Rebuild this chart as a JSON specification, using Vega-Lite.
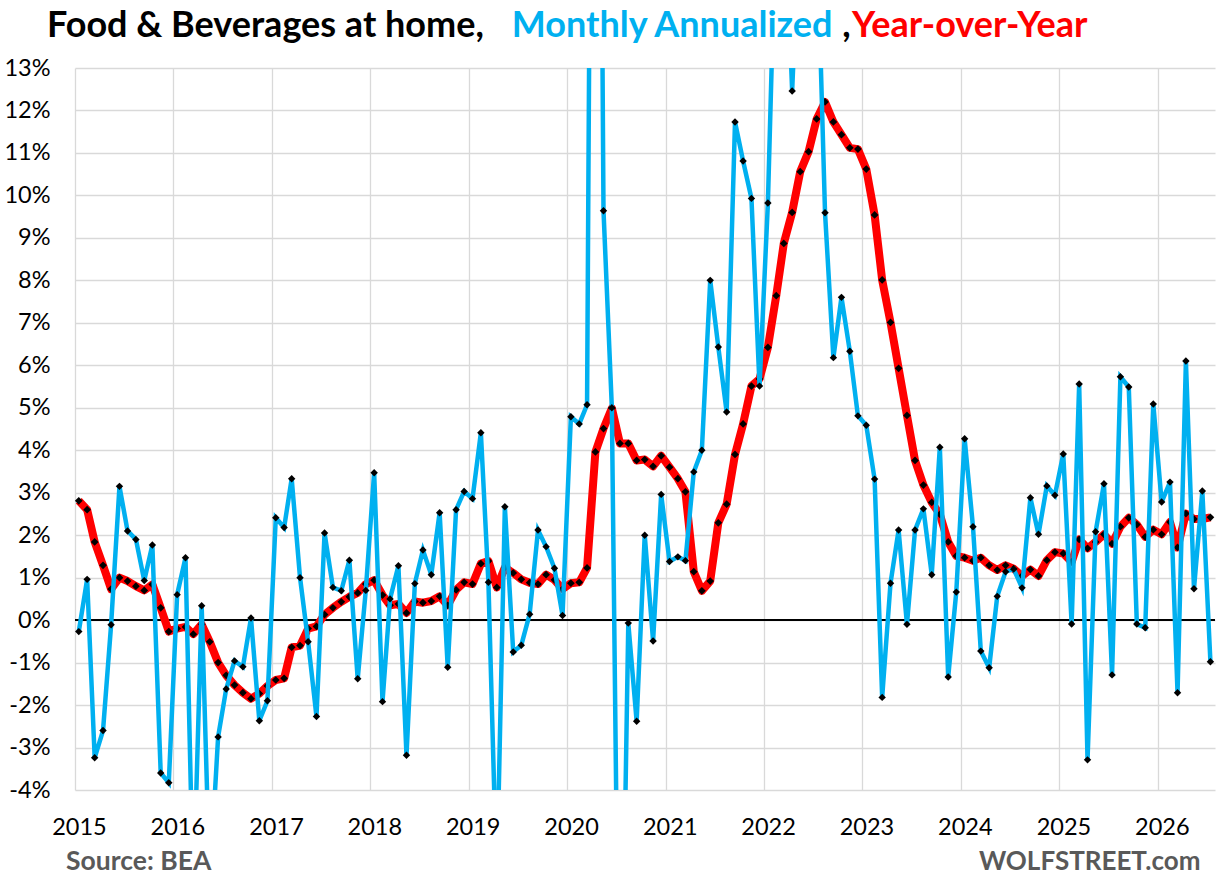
{
  "$schema": "https://vega.github.io/schema/vega-lite/v6.json",
  "width": 1140,
  "height": 722,
  "autosize": {"type": "none"},
  "padding": {"left": 75, "top": 68, "right": 13, "bottom": 90},
  "background": "#ffffff",
  "data": {"values": [
    {"date":"2015-01-15","mom":-0.27,"yoy":2.81},{"date":"2015-02-15","mom":0.96,"yoy":2.6},{"date":"2015-03-15","mom":-3.24,"yoy":1.84},{"date":"2015-04-15","mom":-2.6,"yoy":1.29},{"date":"2015-05-15","mom":-0.11,"yoy":0.73},{"date":"2015-06-15","mom":3.15,"yoy":1.0},{"date":"2015-07-15","mom":2.1,"yoy":0.92},{"date":"2015-08-15","mom":1.9,"yoy":0.8},{"date":"2015-09-15","mom":0.93,"yoy":0.7},{"date":"2015-10-15","mom":1.77,"yoy":0.84},{"date":"2015-11-15","mom":-3.6,"yoy":0.29},{"date":"2015-12-15","mom":-3.83,"yoy":-0.27},
    {"date":"2016-01-15","mom":0.6,"yoy":-0.2},{"date":"2016-02-15","mom":1.47,"yoy":-0.16},{"date":"2016-03-15","mom":-6.5,"yoy":-0.33},{"date":"2016-04-15","mom":0.34,"yoy":-0.1},{"date":"2016-05-15","mom":-6.2,"yoy":-0.51},{"date":"2016-06-15","mom":-2.75,"yoy":-1.0},{"date":"2016-07-15","mom":-1.62,"yoy":-1.3},{"date":"2016-08-15","mom":-0.96,"yoy":-1.53},{"date":"2016-09-15","mom":-1.1,"yoy":-1.71},{"date":"2016-10-15","mom":0.05,"yoy":-1.85},{"date":"2016-11-15","mom":-2.37,"yoy":-1.73},{"date":"2016-12-15","mom":-1.9,"yoy":-1.55},
    {"date":"2017-01-15","mom":2.41,"yoy":-1.41},{"date":"2017-02-15","mom":2.18,"yoy":-1.37},{"date":"2017-03-15","mom":3.33,"yoy":-0.64},{"date":"2017-04-15","mom":1.0,"yoy":-0.6},{"date":"2017-05-15","mom":-0.51,"yoy":-0.2},{"date":"2017-06-15","mom":-2.27,"yoy":-0.15},{"date":"2017-07-15","mom":2.05,"yoy":0.13},{"date":"2017-08-15","mom":0.77,"yoy":0.29},{"date":"2017-09-15","mom":0.69,"yoy":0.43},{"date":"2017-10-15","mom":1.41,"yoy":0.55},{"date":"2017-11-15","mom":-1.38,"yoy":0.64},{"date":"2017-12-15","mom":0.7,"yoy":0.85},
    {"date":"2018-01-15","mom":3.47,"yoy":0.94},{"date":"2018-02-15","mom":-1.92,"yoy":0.59},{"date":"2018-03-15","mom":0.5,"yoy":0.35},{"date":"2018-04-15","mom":1.28,"yoy":0.38},{"date":"2018-05-15","mom":-3.18,"yoy":0.17},{"date":"2018-06-15","mom":0.86,"yoy":0.44},{"date":"2018-07-15","mom":1.65,"yoy":0.41},{"date":"2018-08-15","mom":1.07,"yoy":0.45},{"date":"2018-09-15","mom":2.53,"yoy":0.56},{"date":"2018-10-15","mom":-1.11,"yoy":0.35},{"date":"2018-11-15","mom":2.6,"yoy":0.71},{"date":"2018-12-15","mom":3.03,"yoy":0.89},
    {"date":"2019-01-15","mom":2.86,"yoy":0.85},{"date":"2019-02-15","mom":4.41,"yoy":1.33},{"date":"2019-03-15","mom":0.89,"yoy":1.39},{"date":"2019-04-15","mom":-6.2,"yoy":0.77},{"date":"2019-05-15","mom":2.67,"yoy":1.24},{"date":"2019-06-15","mom":-0.75,"yoy":1.11},{"date":"2019-07-15","mom":-0.59,"yoy":0.96},{"date":"2019-08-15","mom":0.14,"yoy":0.88},{"date":"2019-09-15","mom":2.12,"yoy":0.85},{"date":"2019-10-15","mom":1.73,"yoy":1.07},{"date":"2019-11-15","mom":1.22,"yoy":0.95},{"date":"2019-12-15","mom":0.11,"yoy":0.73},
    {"date":"2020-01-15","mom":4.79,"yoy":0.87},{"date":"2020-02-15","mom":4.62,"yoy":0.89},{"date":"2020-03-15","mom":5.07,"yoy":1.23},{"date":"2020-04-15","mom":38,"yoy":3.96},{"date":"2020-05-15","mom":9.64,"yoy":4.51},{"date":"2020-06-15","mom":5.0,"yoy":4.99},{"date":"2020-07-15","mom":-12,"yoy":4.16},{"date":"2020-08-15","mom":-0.07,"yoy":4.16},{"date":"2020-09-15","mom":-2.38,"yoy":3.76},{"date":"2020-10-15","mom":2.0,"yoy":3.78},{"date":"2020-11-15","mom":-0.49,"yoy":3.62},{"date":"2020-12-15","mom":2.96,"yoy":3.87},
    {"date":"2021-01-15","mom":1.38,"yoy":3.6},{"date":"2021-02-15","mom":1.49,"yoy":3.33},{"date":"2021-03-15","mom":1.4,"yoy":3.02},{"date":"2021-04-15","mom":3.49,"yoy":1.14},{"date":"2021-05-15","mom":4.0,"yoy":0.69},{"date":"2021-06-15","mom":8.0,"yoy":0.92},{"date":"2021-07-15","mom":6.43,"yoy":2.29},{"date":"2021-08-15","mom":4.9,"yoy":2.73},{"date":"2021-09-15","mom":11.73,"yoy":3.9},{"date":"2021-10-15","mom":10.81,"yoy":4.62},{"date":"2021-11-15","mom":9.93,"yoy":5.51},{"date":"2021-12-15","mom":5.51,"yoy":5.68},
    {"date":"2022-01-15","mom":9.82,"yoy":6.42},{"date":"2022-02-15","mom":17,"yoy":7.64},{"date":"2022-03-15","mom":17.5,"yoy":8.87},{"date":"2022-04-15","mom":12.46,"yoy":9.6},{"date":"2022-05-15","mom":17,"yoy":10.56},{"date":"2022-06-15","mom":15,"yoy":11.03},{"date":"2022-07-15","mom":16.5,"yoy":11.8},{"date":"2022-08-15","mom":9.59,"yoy":12.2},{"date":"2022-09-15","mom":6.18,"yoy":11.73},{"date":"2022-10-15","mom":7.6,"yoy":11.43},{"date":"2022-11-15","mom":6.33,"yoy":11.12},{"date":"2022-12-15","mom":4.81,"yoy":11.09},
    {"date":"2023-01-15","mom":4.59,"yoy":10.62},{"date":"2023-02-15","mom":3.32,"yoy":9.54},{"date":"2023-03-15","mom":-1.82,"yoy":8.01},{"date":"2023-04-15","mom":0.87,"yoy":7.01},{"date":"2023-05-15","mom":2.12,"yoy":5.93},{"date":"2023-06-15","mom":-0.1,"yoy":4.82},{"date":"2023-07-15","mom":2.12,"yoy":3.76},{"date":"2023-08-15","mom":2.62,"yoy":3.18},{"date":"2023-09-15","mom":1.07,"yoy":2.77},{"date":"2023-10-15","mom":4.07,"yoy":2.49},{"date":"2023-11-15","mom":-1.34,"yoy":1.84},{"date":"2023-12-15","mom":0.66,"yoy":1.51},
    {"date":"2024-01-15","mom":4.27,"yoy":1.47},{"date":"2024-02-15","mom":2.2,"yoy":1.4},{"date":"2024-03-15","mom":-0.73,"yoy":1.47},{"date":"2024-04-15","mom":-1.12,"yoy":1.29},{"date":"2024-05-15","mom":0.56,"yoy":1.18},{"date":"2024-06-15","mom":1.14,"yoy":1.29},{"date":"2024-07-15","mom":1.2,"yoy":1.21},{"date":"2024-08-15","mom":0.76,"yoy":1.04},{"date":"2024-09-15","mom":2.88,"yoy":1.19},{"date":"2024-10-15","mom":2.02,"yoy":1.04},{"date":"2024-11-15","mom":3.16,"yoy":1.41},{"date":"2024-12-15","mom":2.94,"yoy":1.6},
    {"date":"2025-01-15","mom":3.91,"yoy":1.57},{"date":"2025-02-15","mom":-0.09,"yoy":1.37},{"date":"2025-03-15","mom":5.56,"yoy":1.9},{"date":"2025-04-15","mom":-3.29,"yoy":1.69},{"date":"2025-05-15","mom":2.08,"yoy":1.84},{"date":"2025-06-15","mom":3.21,"yoy":2.02},{"date":"2025-07-15","mom":-1.29,"yoy":1.8},{"date":"2025-08-15","mom":5.73,"yoy":2.2},{"date":"2025-09-15","mom":5.49,"yoy":2.41},{"date":"2025-10-15","mom":-0.09,"yoy":2.25},{"date":"2025-11-15","mom":-0.18,"yoy":1.96},{"date":"2025-12-15","mom":5.09,"yoy":2.13},
    {"date":"2026-01-15","mom":2.78,"yoy":2.02},{"date":"2026-02-15","mom":3.25,"yoy":2.31},{"date":"2026-03-15","mom":-1.71,"yoy":1.71},{"date":"2026-04-15","mom":6.1,"yoy":2.51},{"date":"2026-05-15","mom":0.74,"yoy":2.38},{"date":"2026-06-15","mom":3.04,"yoy":2.38},{"date":"2026-07-15","mom":-0.98,"yoy":2.42}
  ]},
  "encoding": {
    "x": {
      "field": "date",
      "type": "temporal",
      "title": null,
      "scale": {"type": "utc", "domain": [{"year": 2015, "month": 1, "date": 1, "utc": true}, {"year": 2026, "month": 8, "date": 1, "utc": true}]},
      "axis": {"format": "%Y", "tickCount": {"interval": "year", "step": 1}}
    },
    "y": {
      "field": "yoy",
      "type": "quantitative",
      "title": null,
      "scale": {"domain": [-4, 13], "nice": false, "zero": false},
      "axis": {"values": [-4, -3, -2, -1, 0, 1, 2, 3, 4, 5, 6, 7, 8, 9, 10, 11, 12, 13], "labelExpr": "datum.value + '%'"}
    }
  },
  "layer": [
    {
      "mark": {"type": "rule", "color": "#000000", "strokeWidth": 2},
      "encoding": {"y": {"datum": 0, "title": null}, "x": null}
    },
    {
      "mark": {"type": "line", "color": "#FF0000", "strokeWidth": 8, "strokeJoin": "round"}
    },
    {
      "mark": {"type": "point", "shape": "diamond", "filled": true, "color": "#000000", "opacity": 1, "size": 60}
    },
    {
      "mark": {"type": "line", "color": "#00B0F0", "strokeWidth": 4.5, "clip": true},
      "encoding": {"y": {"field": "mom", "type": "quantitative", "title": null}}
    },
    {
      "mark": {"type": "point", "shape": "diamond", "filled": true, "color": "#000000", "opacity": 1, "size": 55, "clip": true},
      "encoding": {"y": {"field": "mom", "type": "quantitative", "title": null}}
    },
    {
      "transform": [{"filter": {"field": "yoy", "equal": 2.81}}],
      "mark": {"type": "text", "font": "Lato", "fontWeight": "bold", "fontSize": 36, "align": "left", "baseline": "alphabetic", "color": "#000000", "text": "Food & Beverages at home,"},
      "encoding": {"x": {"datum": {"year": 2014, "month": 9, "date": 19, "utc": true}}, "y": {"datum": 13.72, "title": null}}
    },
    {
      "transform": [{"filter": {"field": "yoy", "equal": 2.81}}],
      "mark": {"type": "text", "font": "Lato", "fontWeight": "bold", "fontSize": 36, "align": "left", "baseline": "alphabetic", "color": "#00B0F0", "text": "Monthly Annualized"},
      "encoding": {"x": {"datum": {"year": 2019, "month": 6, "date": 10, "utc": true}}, "y": {"datum": 13.72, "title": null}}
    },
    {
      "transform": [{"filter": {"field": "yoy", "equal": 2.81}}],
      "mark": {"type": "text", "font": "Lato", "fontWeight": "bold", "fontSize": 36, "align": "left", "baseline": "alphabetic", "color": "#000000", "text": ","},
      "encoding": {"x": {"datum": {"year": 2022, "month": 10, "date": 18, "utc": true}}, "y": {"datum": 13.72, "title": null}}
    },
    {
      "transform": [{"filter": {"field": "yoy", "equal": 2.81}}],
      "mark": {"type": "text", "font": "Lato", "fontWeight": "bold", "fontSize": 36, "align": "left", "baseline": "alphabetic", "color": "#FF0000", "text": "Year-over-Year"},
      "encoding": {"x": {"datum": {"year": 2022, "month": 11, "date": 23, "utc": true}}, "y": {"datum": 13.72, "title": null}}
    },
    {
      "transform": [{"filter": {"field": "yoy", "equal": 2.81}}],
      "mark": {"type": "text", "font": "Lato", "fontWeight": "bold", "fontSize": 26.5, "align": "left", "baseline": "alphabetic", "color": "#595959", "text": "Source: BEA"},
      "encoding": {"x": {"datum": {"year": 2014, "month": 11, "date": 29, "utc": true}}, "y": {"datum": -5.89, "title": null}}
    },
    {
      "transform": [{"filter": {"field": "yoy", "equal": 2.81}}],
      "mark": {"type": "text", "font": "Lato", "fontWeight": "bold", "fontSize": 26, "align": "right", "baseline": "alphabetic", "color": "#595959", "text": "WOLFSTREET.com"},
      "encoding": {"x": {"datum": {"year": 2026, "month": 6, "date": 8, "utc": true}}, "y": {"datum": -5.89, "title": null}}
    }
  ],
  "config": {
    "view": {"stroke": null},
    "axis": {
      "grid": true,
      "gridColor": "#D9D9D9",
      "gridWidth": 1.3,
      "domain": false,
      "ticks": false,
      "tickSize": 0,
      "labelFont": "Lato",
      "labelFontSize": 23.5,
      "labelColor": "#000000",
      "labelFlush": false,
      "labelOverlap": false,
      "labelBound": false
    },
    "axisX": {"labelPadding": 25, "labelOffset": 4},
    "axisY": {"labelPadding": 25}
  }
}
